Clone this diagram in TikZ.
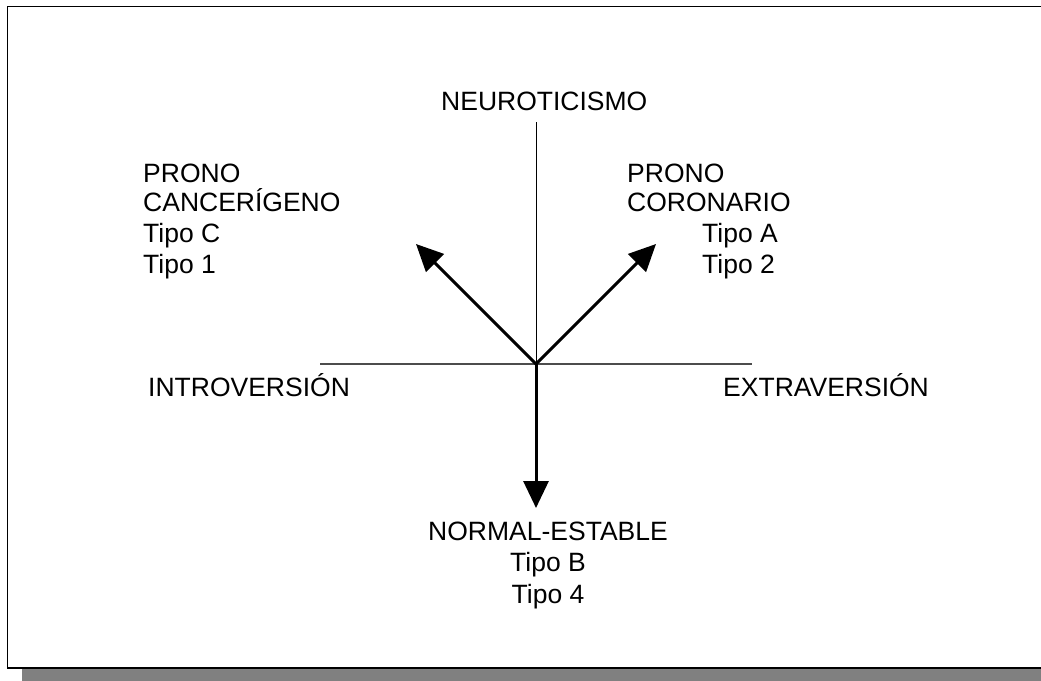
\documentclass[tikz,border=0pt]{standalone}
\usepackage{fontspec}
\setmainfont{Liberation Sans}
\usetikzlibrary{arrows.meta}
\begin{document}
\begin{tikzpicture}[x=1pt,y=-1pt,
  lbl/.style={inner sep=0pt,font=\fontsize{26.5}{30.4}\selectfont},
  axis/.style={line width=1.5pt,draw=black!70},
  vaxis/.style={line width=0.8pt,draw=black},
  bigarrow/.style={line width=3pt,-{Triangle[length=27pt,width=25pt]}}]
\useasboundingbox (0,0) rectangle (1041,680);
% shadow and frame
\fill[gray] (22,21) rectangle (1070,690);
\draw[line width=1.8pt,fill=white] (7.5,6.5) rectangle (1060,668);
% axes
\coordinate (o) at (536,364);
\coordinate (ytop) at (536,122);
\coordinate (xl) at (320,364);
\coordinate (xr) at (752,364);
\coordinate (tl) at (416,244);
\coordinate (tr) at (656,244);
\coordinate (tb) at (536,508);
\draw[vaxis] (ytop) -- (o);
\draw[axis] (xl) -- (xr);
\draw[bigarrow] (o) -- (tl);
\draw[bigarrow] (o) -- (tr);
\draw[bigarrow] (o) -- (tb);
% labels
\node[lbl,anchor=base west] (neu) at (441,110) {NEUROTICISMO};
\node[lbl,anchor=base west] (c1) at (143,182) {PRONO};
\node[lbl,anchor=base west] (c2) at (143,211) {CANCERÍGENO};
\node[lbl,anchor=base west] (c3) at (143,242.5) {Tipo C};
\node[lbl,anchor=base west] (c4) at (143,273) {Tipo 1};
\node[lbl,anchor=base west] (r1) at (627,182) {PRONO};
\node[lbl,anchor=base west] (r2) at (627,211) {CORONARIO};
\node[lbl,anchor=base west] (r3) at (702,242.5) {Tipo A};
\node[lbl,anchor=base west] (r4) at (702,273) {Tipo 2};
\node[lbl,anchor=base west] (intro) at (148,396) {INTROVERSIÓN};
\node[lbl,anchor=base west] (extra) at (723,396) {EXTRAVERSIÓN};
\node[lbl,anchor=base] (n1) at (548,540) {NORMAL-ESTABLE};
\node[lbl,anchor=base] (n2) at (548,571.5) {Tipo B};
\node[lbl,anchor=base] (n3) at (548,603) {Tipo 4};
\end{tikzpicture}
\end{document}
